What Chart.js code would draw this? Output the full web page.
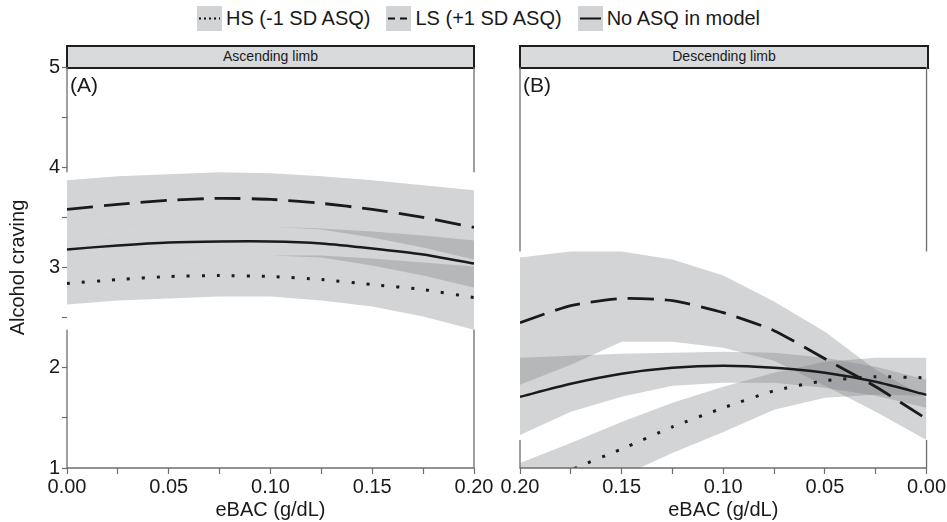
<!DOCTYPE html>
<html>
<head>
<meta charset="utf-8">
<script src="https://cdn.jsdelivr.net/npm/chart.js@4.4.0/dist/chart.umd.min.js"></script>
<style>
  body { margin: 0; background: #fff; width: 947px; height: 522px; overflow: hidden; position: relative;
         font-family: "Liberation Sans", Arial, sans-serif; color: #1a1a1a; }
  #legend { position: absolute; top: 6px; left: 197px; display: flex; align-items: center; font-size: 20px; }
  .item { display: flex; align-items: center; margin-right: 16px; }
  .key { width: 25px; height: 25px; background: #d2d3d5; margin-right: 4px; }
  .strip { position: absolute; top: 45px; height: 24px; box-sizing: border-box; border: 2px solid #1e1e1e;
           background: #d9dadb; font-size: 14px; text-align: center; line-height: 19px; }
  .tag { position: absolute; top: 73px; font-size: 21px; }
  canvas { position: absolute; top: 0; }
</style>
</head>
<body>
<div id="legend">
  <div class="item"><svg class="key" viewBox="0 0 25 25"><line x1="2" y1="12.5" x2="23" y2="12.5" stroke="#111" stroke-width="2" stroke-dasharray="2 3"/></svg>HS (-1 SD ASQ)</div>
  <div class="item"><svg class="key" viewBox="0 0 25 25"><line x1="2" y1="12.5" x2="23" y2="12.5" stroke="#111" stroke-width="2" stroke-dasharray="7 5"/></svg>LS (+1 SD ASQ)</div>
  <div class="item"><svg class="key" viewBox="0 0 25 25"><line x1="2" y1="12.5" x2="23" y2="12.5" stroke="#111" stroke-width="2"/></svg>No ASQ in model</div>
</div>
<div class="strip" style="left:66px;width:409px">Ascending limb</div>
<div class="strip" style="left:519px;width:410px">Descending limb</div>
<canvas id="chartA" width="500" height="522" style="left:0"></canvas>
<canvas id="chartB" width="477" height="522" style="left:470px"></canvas>
<div class="tag" style="left:70px">(A)</div>
<div class="tag" style="left:523px">(B)</div>
<script>
// eBAC values (g/dL)
const xAsc = [0, 0.025, 0.05, 0.075, 0.1, 0.125, 0.15, 0.175, 0.2];
const xDesc = [0.2, 0.175, 0.15, 0.125, 0.1, 0.075, 0.05, 0.025, 0];

// Ascending limb - predicted craving and band limits
const ascLS   = [3.58, 3.63, 3.67, 3.69, 3.68, 3.64, 3.58, 3.50, 3.40];
const ascLSHi = [3.87, 3.91, 3.93, 3.95, 3.94, 3.91, 3.87, 3.82, 3.77];
const ascLSLo = [3.31, 3.36, 3.39, 3.41, 3.41, 3.38, 3.30, 3.20, 3.08];
const ascNo   = [3.18, 3.22, 3.25, 3.26, 3.26, 3.24, 3.19, 3.13, 3.04];
const ascNoHi = [3.31, 3.36, 3.39, 3.41, 3.41, 3.39, 3.36, 3.32, 3.27];
const ascNoLo = [3.04, 3.08, 3.10, 3.12, 3.12, 3.10, 3.02, 2.92, 2.80];
const ascHS   = [2.84, 2.88, 2.91, 2.92, 2.91, 2.88, 2.83, 2.78, 2.70];
const ascHSHi = [3.04, 3.08, 3.10, 3.12, 3.12, 3.12, 3.09, 3.05, 3.01];
const ascHSLo = [2.63, 2.67, 2.69, 2.71, 2.71, 2.67, 2.61, 2.51, 2.38];

// Descending limb
const descLS   = [2.45, 2.62, 2.69, 2.67, 2.55, 2.37, 2.09, 1.81, 1.49];
const descLSHi = [3.10, 3.16, 3.16, 3.08, 2.92, 2.66, 2.36, 1.98, 1.70];
const descLSLo = [1.83, 2.03, 2.26, 2.26, 2.20, 2.07, 1.82, 1.56, 1.28];
const descNo   = [1.71, 1.84, 1.94, 2.00, 2.02, 2.00, 1.95, 1.86, 1.73];
const descNoHi = [2.10, 2.12, 2.14, 2.15, 2.16, 2.15, 2.10, 2.01, 1.88];
const descNoLo = [1.33, 1.56, 1.71, 1.82, 1.85, 1.85, 1.80, 1.72, 1.60];
const descHS   = [0.74, 0.98, 1.19, 1.41, 1.60, 1.77, 1.87, 1.91, 1.90];
const descHSHi = [1.05, 1.25, 1.46, 1.65, 1.81, 1.95, 2.06, 2.10, 2.10];
const descHSLo = [0.40, 0.66, 0.92, 1.15, 1.36, 1.58, 1.70, 1.73, 1.72];

const BAND = 'rgba(120, 123, 127, 0.33)';
const INK = '#1a1a1a';
const FRAME = '#6e6e6e';
const FONT = '"Liberation Sans", Arial, sans-serif';

function pts(xs, ys) {
    return xs.map((x, i) => ({ x: x, y: ys[i] }));
}

function band(xs, hi, lo) {
    return [
        { data: pts(xs, hi), fill: '+1', backgroundColor: BAND, borderWidth: 0, pointRadius: 0, clip: 0 },
        { data: pts(xs, lo), fill: false, borderWidth: 0, pointRadius: 0, clip: 0 }
    ];
}

function line(xs, ys, dash, width) {
    return { data: pts(xs, ys), fill: false, borderColor: INK, borderWidth: width, borderDash: dash,
             borderCapStyle: 'butt', pointRadius: 0, tension: 0.2, clip: 0 };
}

// frame lines, with the white box that the bands sit on
const framePlugin = {
    id: 'frame',
    beforeDraw(chart, args, opts) {
        const { ctx, chartArea: a, scales: { y } } = chart;
        ctx.save();
        ctx.strokeStyle = FRAME;
        ctx.lineWidth = 1.3;
        ctx.beginPath();
        ctx.moveTo(a.left, a.top); ctx.lineTo(a.left, a.bottom);
        ctx.moveTo(a.right, a.top); ctx.lineTo(a.right, a.bottom);
        ctx.stroke();
        const top = Math.min(y.getPixelForValue(opts.hi), a.bottom);
        const bottom = Math.min(y.getPixelForValue(opts.lo), a.bottom);
        ctx.fillStyle = '#fff';
        ctx.fillRect(a.left - 2, top, a.right - a.left + 4, bottom - top);
        ctx.restore();
    },
    afterDatasetsDraw(chart) {
        const { ctx, chartArea: a } = chart;
        ctx.save();
        ctx.strokeStyle = FRAME;
        ctx.lineWidth = 1.3;
        ctx.beginPath();
        ctx.moveTo(a.left - 0.5, a.bottom); ctx.lineTo(a.right + 0.5, a.bottom);
        ctx.stroke();
        ctx.restore();
    }
};

function extent(his, los) {
    const hi = Math.max(...his.flat());
    const lo = Math.min(...los.filter(l => Math.min(...l) >= 1).flat());
    return { hi, lo };
}

function makeChart(id, xs, sets, reverse, showY, yWidth, padding, box) {
    return new Chart(document.getElementById(id), {
        type: 'line',
        data: {
            datasets: [
                ...band(xs, sets.lsHi, sets.lsLo),
                ...band(xs, sets.noHi, sets.noLo),
                ...band(xs, sets.hsHi, sets.hsLo),
                line(xs, sets.ls, [26, 11], 2.8),
                line(xs, sets.no, [], 2.4),
                line(xs, sets.hs, [3, 12], 3)
            ]
        },
        options: {
            responsive: false,
            animation: false,
            layout: { padding: padding },
            plugins: {
                legend: { display: false },
                tooltip: { enabled: false },
                filler: { drawTime: 'beforeDatasetsDraw' },
                frame: box
            },
            scales: {
                x: {
                    type: 'linear',
                    min: 0, max: 0.2,
                    reverse: reverse,
                    afterFit(scale) { scale.height = 54; },
                    border: { display: false },
                    grid: { drawOnChartArea: false, drawTicks: true, tickLength: 6, color: FRAME, tickWidth: 1.2 },
                    ticks: {
                        stepSize: 0.025,
                        padding: 1,
                        maxRotation: 0,
                        autoSkip: false,
                        color: INK,
                        font: { size: 20, family: FONT },
                        callback: v => Math.abs(v * 20 - Math.round(v * 20)) < 1e-6 ? v.toFixed(2) : ''
                    },
                    title: {
                        display: true,
                        text: 'eBAC (g/dL)',
                        color: INK,
                        padding: { top: 0, bottom: 0 },
                        font: { size: 20, family: FONT }
                    }
                },
                y: {
                    min: 1, max: 5,
                    display: showY,
                    afterFit(scale) { scale.width = yWidth; },
                    border: { display: false },
                    grid: { drawOnChartArea: false, drawTicks: true, tickLength: 5, color: FRAME, tickWidth: 1.2 },
                    ticks: {
                        stepSize: 0.5,
                        padding: 2,
                        color: INK,
                        font: { size: 20, family: FONT },
                        callback: v => Number.isInteger(v) ? String(v) : ''
                    },
                    title: {
                        display: true,
                        text: 'Alcohol craving',
                        color: INK,
                        padding: { top: 6, bottom: 0 },
                        font: { size: 20, family: FONT }
                    }
                }
            }
        },
        plugins: [framePlugin]
    });
}

makeChart('chartA', xAsc, {
    ls: ascLS, lsHi: ascLSHi, lsLo: ascLSLo,
    no: ascNo, noHi: ascNoHi, noLo: ascNoLo,
    hs: ascHS, hsHi: ascHSHi, hsLo: ascHSLo
}, false, true, 67, { top: 67, right: 26, left: 0, bottom: 0 },
   extent([ascLSHi, ascNoHi, ascHSHi], [ascLSLo, ascNoLo, ascHSLo]));

makeChart('chartB', xDesc, {
    ls: descLS, lsHi: descLSHi, lsLo: descLSLo,
    no: descNo, noHi: descNoHi, noLo: descNoLo,
    hs: descHS, hsHi: descHSHi, hsLo: descHSLo
}, true, false, 50, { top: 67, right: 19, left: 0, bottom: 0 },
   extent([descLSHi, descNoHi, descHSHi], [descLSLo, descNoLo, descHSLo]));
</script>
</body>
</html>
